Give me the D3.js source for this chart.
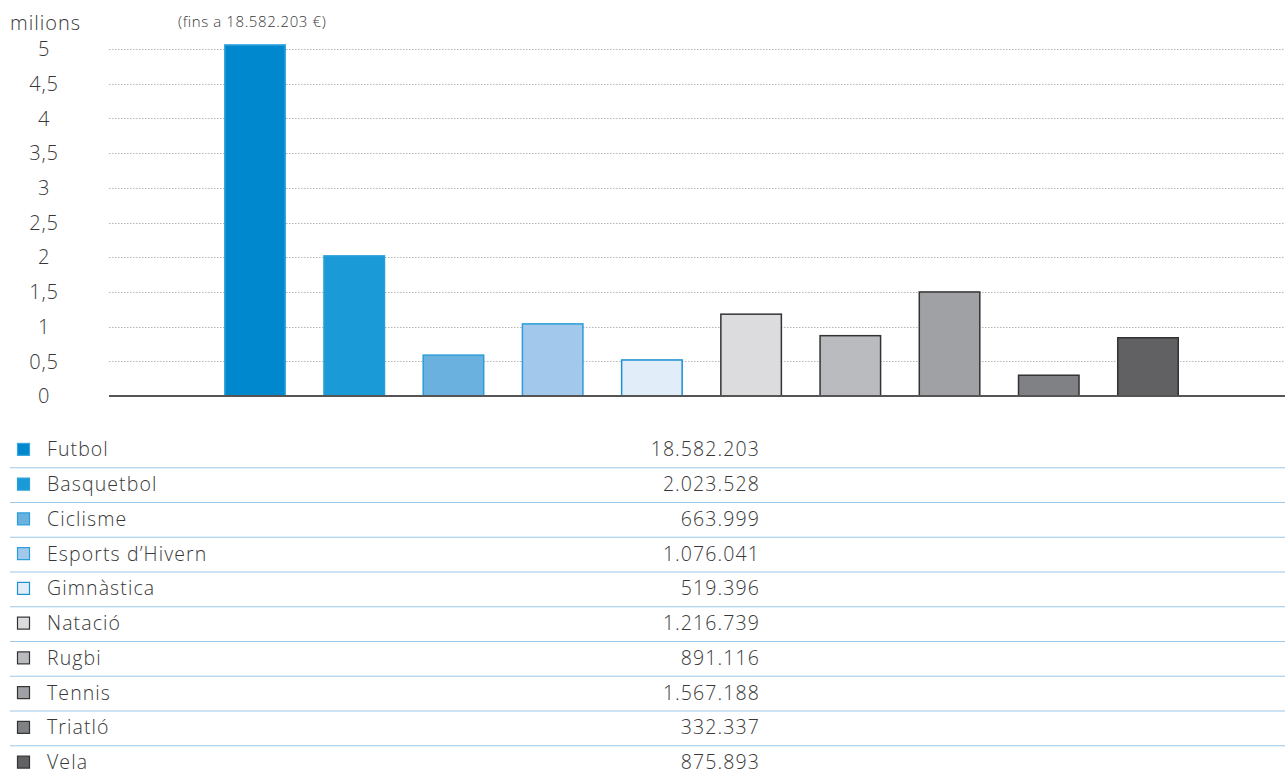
<!DOCTYPE html>
<html><head><meta charset="utf-8">
<script src="https://cdn.jsdelivr.net/npm/d3@7"></script>
<style>
body{margin:0;background:#fff;}
text{font-family:"Open Sans",sans-serif;font-weight:300;fill:#383838;}
</style></head>
<body>
<svg id="c" width="1285" height="774"></svg>
<script>
const categories = ["Futbol","Basquetbol","Ciclisme","Esports d’Hivern","Gimnàstica","Natació","Rugbi","Tennis","Triatló","Vela"];
// bar heights as drawn in the picture (milions); Futbol is cut at the top of the axis
const barMillions = [5.07, 2.03, 0.60, 1.05, 0.53, 1.19, 0.88, 1.51, 0.31, 0.85];
const valueLabels = ["18.582.203","2.023.528","663.999","1.076.041","519.396","1.216.739","891.116","1.567.188","332.337","875.893"];
const yTicks = [0,0.5,1,1.5,2,2.5,3,3.5,4,4.5,5];
const yTickLabels = ["0","0,5","1","1,5","2","2,5","3","3,5","4","4,5","5"];
const fills = ["#0088ce","#1a9ad6","#6ab1e0","#a2c8eb","#e1edf8","#dcdcde","#babbbf","#a0a1a5","#808185","#616163"];
const strokes = ["#3aa6de","#2a9ed8","#2a9ed8","#2a9ed8","#1a90d2","#333333","#333333","#333333","#333333","#333333"];
const capNote = "(fins a 18.582.203 €)";

const svg = d3.select("#c");
const plotL = 109, plotR = 1285, y0 = 396, yTop = 49;
const y = d3.scaleLinear().domain([0,5]).range([y0, yTop]);
const x = d3.scaleBand().domain(categories).range([224, 1179]).paddingInner(0.375).paddingOuter(0);

// gridlines
svg.append("g").selectAll("line").data(yTicks.filter(d=>d>0)).join("line")
  .attr("x1", plotL).attr("x2", plotR)
  .attr("y1", d=>Math.round(y(d))+0.5).attr("y2", d=>Math.round(y(d))+0.5)
  .attr("stroke","#b5b5b5").attr("stroke-width",1).attr("stroke-dasharray","1.5,1.5");

// y tick labels
svg.append("g").selectAll("text").data(yTicks).join("text")
  .attr("x", 44).attr("y", d=>y(d)).attr("dy","0.36em")
  .attr("text-anchor","middle").attr("font-size",20).attr("letter-spacing",0.8)
  .text((d,i)=>yTickLabels[i]);

svg.append("text").attr("x",10).attr("y",30).attr("font-size",20).attr("letter-spacing",1).text("milions");

// bars
svg.append("g").selectAll("rect").data(categories).join("rect")
  .attr("x", d=>x(d)+0.75)
  .attr("width", x.bandwidth()-1.5)
  .attr("y", (d,i)=>y(barMillions[i])+0.75)
  .attr("height", (d,i)=>y0 - y(barMillions[i])-0.75)
  .attr("fill", (d,i)=>fills[i])
  .attr("stroke", (d,i)=>strokes[i]).attr("stroke-width",1.5);

svg.append("text").attr("x",178).attr("y",27).attr("font-size",15).attr("letter-spacing",0.6).text(capNote);

// baseline
svg.append("line").attr("x1",plotL).attr("x2",plotR).attr("y1",y0).attr("y2",y0)
  .attr("stroke","#555").attr("stroke-width",2);

// table
const rowY = d3.scaleBand().domain(categories).range([432.5, 780]).padding(0);
const rows = svg.append("g").selectAll("g").data(categories).join("g")
  .attr("transform", d=>`translate(0,${rowY(d)+rowY.bandwidth()/2})`);
rows.append("rect").attr("x",17.5).attr("y",-6.5).attr("width",12).attr("height",12)
  .attr("fill",(d,i)=>fills[i]).attr("stroke",(d,i)=>strokes[i]).attr("stroke-width",1.2);
rows.append("text").attr("x",47).attr("dy","0.33em").attr("font-size",19.5).attr("letter-spacing",1.1).text(d=>d);
rows.append("text").attr("x",760).attr("dy","0.33em").attr("font-size",19.5).attr("letter-spacing",1.1).attr("text-anchor","end")
  .text((d,i)=>valueLabels[i]);
svg.append("g").selectAll("line").data(categories.slice(1)).join("line")
  .attr("x1",10).attr("x2",1285)
  .attr("y1",d=>rowY(d)+0.5).attr("y2",d=>rowY(d)+0.5)
  .attr("stroke","#9cc8ea").attr("stroke-width",1.2);
</script>
</body></html>
